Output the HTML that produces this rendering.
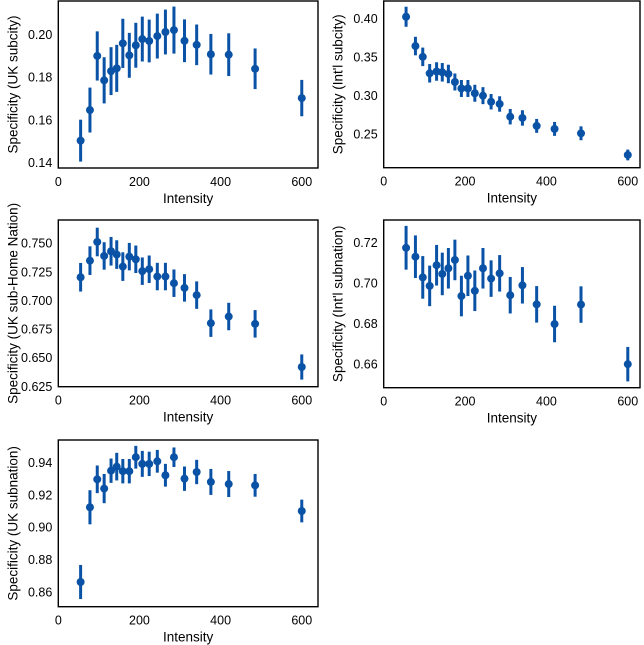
<!DOCTYPE html>
<html><head><meta charset="utf-8">
<style>
html,body{margin:0;padding:0;background:#fff;}
svg{display:block;font-family:"Liberation Sans",Arial,sans-serif;}
</style></head>
<body>
<svg id="fig" width="644" height="645" viewBox="0 0 644 645" xmlns="http://www.w3.org/2000/svg"></svg>
<script>
const intensity = [55,78,96,113,130,144,159,175,191,207,224,244,264,285,311,341,376,420,485,600];
const xTicks = [0,200,400,600];

const ukSubcity = [0.1503,0.1646,0.1899,0.1785,0.1828,0.1841,0.1958,0.1902,0.1949,0.1978,0.1969,0.1992,0.2011,0.2020,0.1970,0.1951,0.1907,0.1905,0.1839,0.1702];
const ukSubcityErr = [0.0098,0.0105,0.0115,0.0108,0.0112,0.0110,0.0115,0.0105,0.0105,0.0105,0.0100,0.0105,0.0105,0.0110,0.0100,0.0095,0.0095,0.0100,0.0095,0.0085];
const ukSubcityTicks = [0.14,0.16,0.18,0.20];

const intlSubcity = [0.402,0.364,0.350,0.3287,0.331,0.330,0.3278,0.3174,0.309,0.309,0.3028,0.2997,0.2918,0.2889,0.2724,0.2708,0.2605,0.2566,0.2509,0.2228];
const intlSubcityErr = [0.013,0.012,0.012,0.012,0.012,0.012,0.012,0.011,0.011,0.011,0.011,0.011,0.010,0.010,0.010,0.010,0.009,0.009,0.009,0.007];
const intlSubcityTicks = [0.25,0.30,0.35,0.40];

const ukHome = [0.7203,0.7348,0.7511,0.7389,0.7430,0.7401,0.7296,0.7383,0.7360,0.7256,0.7273,0.7209,0.7209,0.7151,0.7110,0.7047,0.6802,0.6860,0.6796,0.6419];
const ukHomeErr = [0.0125,0.0125,0.0125,0.0120,0.0125,0.0125,0.0125,0.0120,0.0120,0.0120,0.0120,0.0120,0.0120,0.0120,0.0120,0.0120,0.0120,0.0120,0.0120,0.0110];
const ukHomeTicks = [0.625,0.650,0.675,0.700,0.725,0.750];

const intlSubnation = [0.7173,0.7129,0.7027,0.6985,0.7087,0.7044,0.7072,0.7113,0.6935,0.7035,0.6961,0.7072,0.7021,0.7047,0.6939,0.6988,0.6894,0.6797,0.6893,0.6599];
const intlSubnationErr = [0.0108,0.0105,0.0105,0.0100,0.0100,0.0105,0.0100,0.0100,0.0100,0.0100,0.0100,0.0100,0.0090,0.0090,0.0090,0.0090,0.0090,0.0090,0.0090,0.0085];
const intlSubnationTicks = [0.66,0.68,0.70,0.72];

const ukSubnation = [0.8663,0.9123,0.9295,0.9238,0.9348,0.9373,0.9345,0.9345,0.9431,0.9390,0.9390,0.9406,0.9320,0.9431,0.9299,0.9340,0.9279,0.9266,0.9258,0.9100];
const ukSubnationErr = [0.0105,0.0105,0.0085,0.0090,0.0075,0.0085,0.0075,0.0075,0.0070,0.0080,0.0075,0.0070,0.0070,0.0060,0.0075,0.0075,0.0080,0.0080,0.0070,0.0070];
const ukSubnationTicks = [0.86,0.88,0.90,0.92,0.94];

const NS = "http://www.w3.org/2000/svg";
const svg = document.getElementById('fig');
const COLOR = "#0a52a6";

function mk(tag, attrs, parent){
  const e = document.createElementNS(NS, tag);
  for (const k in attrs) e.setAttribute(k, attrs[k]);
  parent.appendChild(e);
  return e;
}

function panel(name, box, xmax, ymin, ymax, vals, errs, yTicks, decimals, ylabel){
  const g = mk('g', {}, svg);
  
  
  const xmin = 0;
  const sx = v => box.x0 + (v - xmin) / (xmax - xmin) * (box.x1 - box.x0);
  const sy = v => box.y1 - (v - ymin) / (ymax - ymin) * (box.y1 - box.y0);
  const fr = mk('rect', {x:box.x0, y:box.y0, width:box.x1-box.x0, height:box.y1-box.y0, fill:'none', stroke:'#000', 'stroke-width':1.4}, g);
  
  
  xTicks.forEach(t => {
    const tx = mk('text', {x:sx(t), y:box.y1+18, 'font-size':12.5, 'text-anchor':'middle', fill:'#000'}, g);
    tx.textContent = t;
    
    
  });
  yTicks.forEach(t => {
    const ty = mk('text', {x:box.x0-6, y:sy(t)+4.5, 'font-size':12.5, 'text-anchor':'end', fill:'#000'}, g);
    ty.textContent = t.toFixed(decimals);
    
    
  });
  const xt = mk('text', {x:(box.x0+box.x1)/2, y:box.y1+35, 'font-size':13.5, 'text-anchor':'middle', fill:'#000'}, g);
  xt.textContent = 'Intensity';
  
  
  const cy = (box.y0+box.y1)/2;
  const yt = mk('text', {x:box.x0-41, y:cy, 'font-size':13.5, 'text-anchor':'middle', fill:'#000', transform:'rotate(-90 '+(box.x0-41)+' '+cy+')'}, g);
  yt.textContent = ylabel;
  
  
  vals.forEach((v, i) => {
    const x = sx(intensity[i]);
    const ln = mk('line', {x1:x, x2:x, y1:sy(v-errs[i]), y2:sy(v+errs[i]), stroke:COLOR, 'stroke-width':3}, g);
    
    
    const c = mk('circle', {cx:x, cy:sy(v), r:4, fill:COLOR}, g);
    
    
  });
}

panel('uk-subcity', {x0:58.3,x1:318,y0:1,y1:168}, 640, 0.1375, 0.2156, ukSubcity, ukSubcityErr, ukSubcityTicks, 2, 'Specificity (UK subcity)');
panel('intl-subcity', {x0:383.7,x1:640,y0:1,y1:167.7}, 630, 0.2063, 0.4224, intlSubcity, intlSubcityErr, intlSubcityTicks, 2, "Specificity (Int'l subcity)");
panel('uk-sub-home-nation', {x0:58.3,x1:318,y0:220,y1:386.7}, 640, 0.6247, 0.7703, ukHome, ukHomeErr, ukHomeTicks, 3, 'Specificity (UK sub-Home Nation)');
panel('intl-subnation', {x0:383.7,x1:640,y0:220,y1:387.7}, 630, 0.6483, 0.7310, intlSubnation, intlSubnationErr, intlSubnationTicks, 2, "Specificity (Int'l subnation)");
panel('uk-subnation', {x0:58.3,x1:318,y0:440,y1:606.7}, 640, 0.8511, 0.9537, ukSubnation, ukSubnationErr, ukSubnationTicks, 2, 'Specificity (UK subnation)');
</script>
</body></html>
